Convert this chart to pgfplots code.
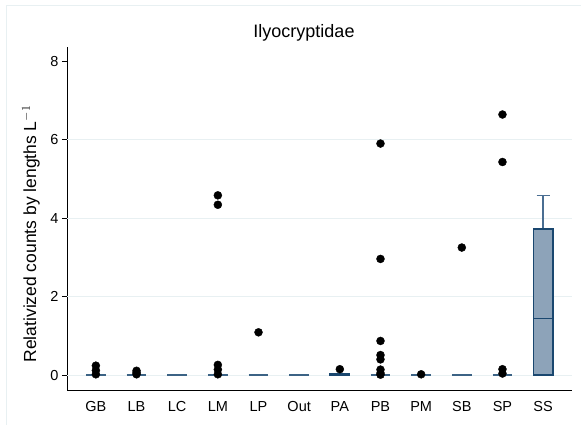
\documentclass[border=0pt]{standalone}
\usepackage{pgfplots}
\pgfplotsset{compat=1.18}
\usepgfplotslibrary{statistics}
\usepackage{fontspec}
\setmainfont{Liberation Sans}
\definecolor{boxfill}{RGB}{141,163,185}
\definecolor{boxedge}{RGB}{26,71,111}
\definecolor{whisk}{RGB}{74,110,146}
\definecolor{gridc}{RGB}{232,240,242}

\begin{document}
\begin{tikzpicture}
\useasboundingbox (0pt,0pt) rectangle (581pt,425pt);
\draw[gridc, line width=1pt] (6pt,0pt) -- (6pt,419pt) -- (581pt,419pt);
\begin{axis}[
    at={(67pt,35pt)}, anchor=south west,
    scale only axis,
    width=505pt, height=343pt,
    xmin=-0.71, xmax=11.71,
    ymin=-0.38, ymax=8.36,
    axis lines*=left,
    axis line style={black, line width=0.9pt},
    xtick={0,...,11},
    xticklabels={GB,LB,LC,LM,LP,Out,PA,PB,PM,SB,SP,SS},
    x tick style={draw=none},
    ytick={0,2,4,6,8},
    y tick style={black, line width=0.8pt},
    tick align=outside,
    major tick length=5pt,
    extra y ticks={0,2,4,6},
    extra y tick labels={},
    extra y tick style={grid=major, major tick length=0pt},
    grid style={gridc, line width=1pt},
    /pgf/number format/assume math mode=true,
    tick label style={font=\fontsize{14.5}{16}\selectfont},
    xticklabel style={yshift=-3pt},
    clip=false,
    boxplot/draw direction=y,
    boxplot/every box/.style={draw=boxedge, fill=boxfill, line width=1.2pt},
    boxplot/every median/.style={draw=boxedge, line width=1.2pt},
    boxplot/every whisker/.style={draw=whisk, line width=1.4pt},
]
% categories whose box is flat at zero: median line only
\pgfplotsset{zerobox/.style={
    boxplot/every box/.style={draw=none},
    boxplot/every median/.style={draw=boxedge!85, line width=1.6pt},
    boxplot/every whisker/.style={draw=none}}}
\addplot[zerobox, boxplot prepared={draw position=0, lower whisker=0, lower quartile=0, median=0, upper quartile=0, upper whisker=0, box extend=0.49}] coordinates {};
\addplot[zerobox, boxplot prepared={draw position=1, lower whisker=0, lower quartile=0, median=0, upper quartile=0, upper whisker=0, box extend=0.49}] coordinates {};
\addplot[zerobox, boxplot prepared={draw position=2, lower whisker=0, lower quartile=0, median=0, upper quartile=0, upper whisker=0, box extend=0.49}] coordinates {};
\addplot[zerobox, boxplot prepared={draw position=3, lower whisker=0, lower quartile=0, median=0, upper quartile=0, upper whisker=0, box extend=0.49}] coordinates {};
\addplot[zerobox, boxplot prepared={draw position=4, lower whisker=0, lower quartile=0, median=0, upper quartile=0, upper whisker=0, box extend=0.49}] coordinates {};
\addplot[zerobox, boxplot prepared={draw position=5, lower whisker=0, lower quartile=0, median=0, upper quartile=0, upper whisker=0, box extend=0.49}] coordinates {};
\addplot[boxplot prepared={draw position=6, lower whisker=0, lower quartile=0, median=0, upper quartile=0.03, upper whisker=0.03, box extend=0.49, whisker extend=0}] coordinates {};
\addplot[zerobox, boxplot prepared={draw position=7, lower whisker=0, lower quartile=0, median=0, upper quartile=0, upper whisker=0, box extend=0.49}] coordinates {};
\addplot[zerobox, boxplot prepared={draw position=8, lower whisker=0, lower quartile=0, median=0, upper quartile=0, upper whisker=0, box extend=0.49}] coordinates {};
\addplot[zerobox, boxplot prepared={draw position=9, lower whisker=0, lower quartile=0, median=0, upper quartile=0, upper whisker=0, box extend=0.49}] coordinates {};
\addplot[zerobox, boxplot prepared={draw position=10, lower whisker=0, lower quartile=0, median=0, upper quartile=0, upper whisker=0, box extend=0.49}] coordinates {};
% SS
\addplot[boxplot prepared={draw position=11, lower whisker=0, lower quartile=0, median=1.44, upper quartile=3.72, upper whisker=4.58, box extend=0.49, whisker extend=0.32}] coordinates {};

% outside values
\addplot[only marks, mark=*, mark size=4pt, black] coordinates {
    (0,0.24) (0,0.12) (0,0.02)
    (1,0.11) (1,0.06) (1,0.02)
    (3,4.58) (3,4.34) (3,0.26) (3,0.14) (3,0.02)
    (4,1.09)
    (6,0.15)
    (7,5.90) (7,2.96) (7,0.87) (7,0.51) (7,0.40) (7,0.14) (7,0.05) (7,0.01)
    (8,0.02)
    (9,3.25)
    (10,6.64) (10,5.43) (10,0.15) (10,0.04)
};
\end{axis}
\node[font=\fontsize{18}{20}\selectfont] at (304pt,392pt) {Ilyocryptidae};
\node[rotate=90, font=\fontsize{17.5}{20}\selectfont] at (31pt,191pt) {Relativized counts by lengths L$^{-1}$};
\end{tikzpicture}
\end{document}
